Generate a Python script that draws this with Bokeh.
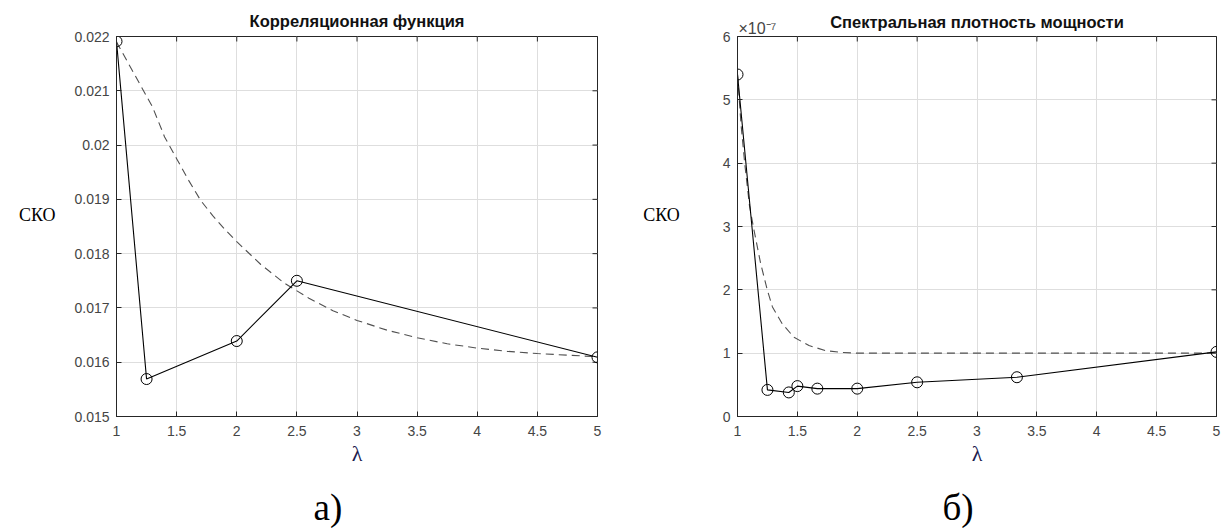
import math
from bokeh.plotting import figure
from bokeh.layouts import row
from bokeh.models import LinearAxis, FixedTicker, Range1d, Title
from bokeh.embed import file_html
from bokeh.resources import INLINE

# ---------------- data ----------------
# (a) Correlation function
lam_a = [1.0, 1.25, 2.0, 2.5, 5.0]
sko_a = [0.02191, 0.01569, 0.01639, 0.01750, 0.01609]
lam_a_dash = [1.0, 1.1, 1.2, 1.3, 1.4, 1.5, 1.6, 1.7, 1.8, 1.9, 2.0, 2.2, 2.4, 2.6,
              2.8, 3.0, 3.25, 3.5, 3.75, 4.0, 4.25, 4.5, 4.75, 5.0]
sko_a_dash = [0.02190, 0.02150, 0.02110, 0.02070, 0.02015, 0.01975, 0.01935, 0.01898,
              0.01870, 0.01845, 0.01822, 0.01780, 0.01745, 0.01718, 0.01695, 0.01677,
              0.01659, 0.01645, 0.01634, 0.01626, 0.01620, 0.01616, 0.01613, 0.01610]

# (b) Power spectral density
lam_b = [1.0, 1.25, 1.4286, 1.5, 1.6667, 2.0, 2.5, 3.3333, 5.0]
sko_b = [5.40e-7, 0.42e-7, 0.38e-7, 0.48e-7, 0.44e-7, 0.44e-7, 0.54e-7, 0.62e-7, 1.02e-7]
lam_b_dash = [1.0, 1.03, 1.06, 1.1, 1.133, 1.194, 1.25, 1.292, 1.375, 1.472, 1.597,
              1.736, 1.875, 2.0, 2.5, 3.0, 4.0, 5.0]
sko_b_dash = [5.40e-7, 4.60e-7, 4.00e-7, 3.33e-7, 2.99e-7, 2.41e-7, 1.99e-7, 1.73e-7,
              1.46e-7, 1.25e-7, 1.12e-7, 1.04e-7, 1.01e-7, 1.00e-7, 1.00e-7, 1.00e-7,
              1.00e-7, 1.00e-7]

x_ticks = [1, 1.5, 2, 2.5, 3, 3.5, 4, 4.5, 5]
x_tick_labels = ["1", "1.5", "2", "2.5", "3", "3.5", "4", "4.5", "5"]
ya_ticks = [0.015, 0.016, 0.017, 0.018, 0.019, 0.02, 0.021, 0.022]
ya_tick_labels = ["0.015", "0.016", "0.017", "0.018", "0.019", "0.02", "0.021", "0.022"]
yb_ticks = [0, 1e-7, 2e-7, 3e-7, 4e-7, 5e-7, 6e-7]
yb_tick_labels = ["0", "1", "2", "3", "4", "5", "6"]
yb_exponent = "×10⁻⁷"

titles = ["Корреляционная функция", "Спектральная плотность мощности"]
captions = ["а)", "б)"]
x_label = "λ"
y_label = "СКО"

AX = "#262626"
TICK = "#454545"
GRID = "#dedede"
SANS = "Liberation Sans"
SERIF = "Liberation Serif"
FRAME_W = 481


def make(width, bl, br, yr, yticks, ylabels, sko_standoff):
    p = figure(width=width, height=528, output_backend="svg", toolbar_location=None,
               x_range=Range1d(1, 5), y_range=yr, title=None,
               min_border_left=bl, min_border_right=br, min_border_top=36,
               min_border_bottom=112, x_axis_location=None, y_axis_location=None)
    p.outline_line_color = AX
    p.outline_line_width = 1
    p.background_fill_color = "white"
    p.border_fill_color = "white"

    xt = FixedTicker(ticks=x_ticks)
    yt = FixedTicker(ticks=yticks)

    xa = LinearAxis(ticker=xt, major_label_overrides=dict(zip(x_ticks, x_tick_labels)))
    xa.major_tick_in = 5
    xa.major_tick_out = 0
    xa.minor_tick_in = 0
    xa.minor_tick_out = 0
    xa.axis_line_color = AX
    xa.major_tick_line_color = AX
    xa.major_label_text_font = SANS
    xa.major_label_text_font_size = "14px"
    xa.major_label_text_color = TICK
    xa.major_label_standoff = 9
    xa.axis_label = x_label
    xa.axis_label_text_font = SERIF
    xa.axis_label_text_font_size = "22px"
    xa.axis_label_text_font_style = "normal"
    xa.axis_label_text_color = "#1a1a4e"
    xa.axis_label_standoff = 2
    p.add_layout(xa, "below")

    ya = LinearAxis(ticker=yt, major_label_overrides=dict(zip(yticks, ylabels)))
    ya.major_tick_in = 5
    ya.major_tick_out = 0
    ya.minor_tick_in = 0
    ya.minor_tick_out = 0
    ya.axis_line_color = AX
    ya.major_tick_line_color = AX
    ya.major_label_text_font = SANS
    ya.major_label_text_font_size = "14px"
    ya.major_label_text_color = TICK
    ya.major_label_standoff = 7
    # second (empty) line lifts the label a little above the frame centre
    ya.axis_label = y_label + "\n"
    ya.axis_label_orientation = "horizontal"
    ya.axis_label_text_font = SERIF
    ya.axis_label_text_font_size = "18px"
    ya.axis_label_text_font_style = "normal"
    ya.axis_label_text_color = "black"
    ya.axis_label_standoff = sko_standoff
    p.add_layout(ya, "left")

    # inward ticks on the top and right edges
    p.scatter(x_ticks, [yr.end] * len(x_ticks), marker="dash", angle=math.pi / 2,
              size=10, line_color=AX, line_width=1)
    p.scatter([5] * len(yticks), yticks, marker="dash", size=10,
              line_color=AX, line_width=1)

    p.xgrid.ticker = xt
    p.ygrid.ticker = yt
    p.xgrid.grid_line_color = GRID
    p.ygrid.grid_line_color = GRID
    return p


def add_caption(p, text, offset):
    # leading empty line (with a tight line height) pushes the caption down
    t = Title(text="\n" + text, align="left", offset=offset, text_font=SERIF,
              text_font_size="37px", text_font_style="normal", text_color="black",
              text_line_height=0.42, standoff=0)
    p.add_layout(t, "below")


pa = make(640, 116, 43, Range1d(0.015, 0.022), ya_ticks, ya_tick_labels, 16)
pa.title = Title(text=titles[0], align="center", text_font=SANS, text_font_size="16.5px",
                 text_font_style="bold", text_color="#111111", standoff=13)
pa.line(lam_a_dash, sko_a_dash, line_color="#505050", line_width=1.1, line_dash="8 5")
pa.line(lam_a, sko_a, line_color="black", line_width=1.1)
pa.scatter(lam_a, sko_a, marker="circle", size=11, fill_color=None,
           line_color="black", line_width=1)
add_caption(pa, captions[0], 197)

pb = make(582, 95, 6, Range1d(0, 6e-7), yb_ticks, yb_tick_labels, 40)
# top axis carrying the exponent and the title
exp_pos = 1 + 20 * 4 / FRAME_W
ta = LinearAxis(ticker=FixedTicker(ticks=[exp_pos]),
                major_label_overrides={exp_pos: yb_exponent})
ta.major_tick_line_color = None
ta.major_tick_in = 0
ta.major_tick_out = 0
ta.minor_tick_in = 0
ta.minor_tick_out = 0
ta.axis_line_color = None
ta.minor_tick_line_color = None
ta.major_label_text_font = SANS
ta.major_label_text_font_size = "16px"
ta.major_label_text_color = TICK
ta.major_label_standoff = 0
ta.axis_label = titles[1]
ta.axis_label_text_font = SANS
ta.axis_label_text_font_size = "16.5px"
ta.axis_label_text_font_style = "bold"
ta.axis_label_text_color = "#111111"
ta.axis_label_standoff = -14
pb.add_layout(ta, "above")
pb.line(lam_b_dash, sko_b_dash, line_color="#505050", line_width=1.1, line_dash="8 5")
pb.line(lam_b, sko_b, line_color="black", line_width=1.1)
pb.scatter(lam_b, sko_b, marker="circle", size=11, fill_color=None,
           line_color="black", line_width=1)
add_caption(pb, captions[1], 205)

layout = row(pa, pb)
open("out.html", "w").write(file_html(layout, INLINE))
